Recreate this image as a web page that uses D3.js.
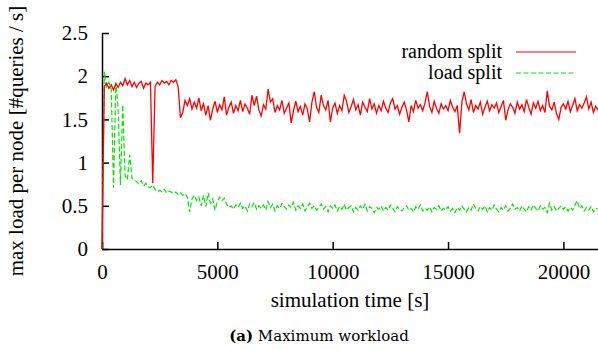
<!DOCTYPE html>
<html>
<head>
<meta charset="utf-8">
<script src="https://cdnjs.cloudflare.com/ajax/libs/d3/7.8.5/d3.min.js"></script>
<style>
  body { margin: 0; background: #fff; }
  #chart { width: 598px; height: 350px; }
  .axis text { font-family: "Liberation Serif", serif; font-size: 21px; fill: #000; }
  .axis path, .axis line { stroke: #000; stroke-width: 1.5; }
  .labelAxis { font-family: "Liberation Serif", serif; font-size: 21px; fill: #000; }
  .legendText { font-family: "Liberation Serif", serif; font-size: 20px; fill: #000; }
</style>
</head>
<body>
<div id="chart"></div>
<script>

/*
DATA
one sample every 100 s of simulation time
*/
const sampleStep = 100;

const seriesNames = ["random split", "load split"];

const randomSplit = [
  0, 1.88, 1.92, 1.86, 1.90, 1.84, 1.91, 1.87, 1.93, 1.89,
  1.97, 1.90, 1.95, 1.88, 1.93, 1.87, 1.92, 1.94, 1.86, 1.92,
  1.90, 1.93, 0.76, 1.88, 1.93, 1.90, 1.95, 1.92, 1.94, 1.90,
  1.95, 1.93, 1.96, 1.88, 1.52, 1.58, 1.72, 1.66, 1.74, 1.62,
  1.70, 1.63, 1.75, 1.60, 1.68, 1.55, 1.66, 1.49, 1.62, 1.71,
  1.58, 1.67, 1.61, 1.76, 1.55, 1.64, 1.70, 1.57, 1.66, 1.60,
  1.72, 1.59, 1.68, 1.63, 1.56, 1.78, 1.66, 1.77, 1.61, 1.54,
  1.67, 1.62, 1.85, 1.70, 1.74, 1.58, 1.66, 1.61, 1.72, 1.57,
  1.63, 1.69, 1.46, 1.60, 1.71, 1.59, 1.65, 1.55, 1.68, 1.62,
  1.47, 1.70, 1.82, 1.64, 1.58, 1.78, 1.66, 1.61, 1.72, 1.47,
  1.63, 1.69, 1.57, 1.66, 1.60, 1.78, 1.71, 1.58, 1.65, 1.73,
  1.61, 1.67, 1.55, 1.70, 1.64, 1.59, 1.74, 1.62, 1.68, 1.57,
  1.66, 1.60, 1.71, 1.63, 1.58, 1.69, 1.74, 1.62, 1.66, 1.56,
  1.64, 1.70, 1.61, 1.47, 1.66, 1.59, 1.72, 1.63, 1.67, 1.60,
  1.69, 1.82, 1.65, 1.58, 1.71, 1.63, 1.57, 1.68, 1.62, 1.66,
  1.60, 1.72, 1.64, 1.59, 1.66, 1.34, 1.70, 1.82, 1.68, 1.61,
  1.73, 1.58, 1.66, 1.62, 1.70, 1.56, 1.64, 1.71, 1.60, 1.67,
  1.63, 1.69, 1.58, 1.65, 1.72, 1.49, 1.61, 1.68, 1.64, 1.57,
  1.70, 1.62, 1.67, 1.59, 1.73, 1.64, 1.56, 1.69, 1.63, 1.71,
  1.60, 1.66, 1.58, 1.83, 1.65, 1.61, 1.70, 1.57, 1.50, 1.64,
  1.68, 1.62, 1.71, 1.59, 1.66, 1.74, 1.60, 1.67, 1.63, 1.69,
  1.76, 1.62, 1.70, 1.58, 1.65, 1.61
];

const loadSplit = [
  0, 2.05, 1.88, 1.93, 1.85, 0.71, 1.93, 1.63, 0.74, 1.67,
  0.85, 0.80, 1.09, 0.82, 0.80, 0.78, 0.75, 0.79, 0.73, 0.76,
  0.72, 0.71, 0.74, 0.69, 0.66, 0.68, 0.66, 0.69, 0.65, 0.67,
  0.66, 0.64, 0.66, 0.63, 0.65, 0.62, 0.64, 0.60, 0.43, 0.58,
  0.62, 0.56, 0.60, 0.50, 0.62, 0.49, 0.65, 0.53, 0.58, 0.45,
  0.55, 0.60, 0.56, 0.59, 0.52, 0.48, 0.50, 0.46, 0.51, 0.48,
  0.53, 0.47, 0.50, 0.44, 0.52, 0.49, 0.54, 0.46, 0.50, 0.47,
  0.51, 0.45, 0.55, 0.48, 0.52, 0.44, 0.50, 0.47, 0.53, 0.49,
  0.46, 0.51, 0.48, 0.54, 0.45, 0.50, 0.47, 0.52, 0.44, 0.49,
  0.53, 0.47, 0.50, 0.45, 0.48, 0.52, 0.46, 0.49, 0.43, 0.50,
  0.47, 0.51, 0.44, 0.49, 0.46, 0.52, 0.45, 0.48, 0.50, 0.43,
  0.48, 0.45, 0.50, 0.46, 0.52, 0.44, 0.49, 0.47, 0.42, 0.48,
  0.46, 0.50, 0.44, 0.48, 0.45, 0.51, 0.47, 0.43, 0.49, 0.46,
  0.44, 0.48, 0.50, 0.45, 0.47, 0.43, 0.49, 0.46, 0.51, 0.44,
  0.47, 0.45, 0.49, 0.43, 0.48, 0.46, 0.50, 0.44, 0.47, 0.45,
  0.49, 0.44, 0.47, 0.42, 0.48, 0.45, 0.50, 0.46, 0.43, 0.48,
  0.45, 0.52, 0.47, 0.44, 0.49, 0.46, 0.50, 0.43, 0.48, 0.45,
  0.51, 0.46, 0.43, 0.48, 0.45, 0.50, 0.44, 0.47, 0.52, 0.46,
  0.48, 0.44, 0.50, 0.46, 0.43, 0.49, 0.45, 0.51, 0.47, 0.44,
  0.50, 0.46, 0.48, 0.42, 0.53, 0.45, 0.49, 0.44, 0.47, 0.50,
  0.46, 0.49, 0.44, 0.48, 0.45, 0.51, 0.56, 0.47, 0.50, 0.44,
  0.48, 0.45, 0.49, 0.43, 0.47, 0.46
];

const xTicks = [0, 5000, 10000, 15000, 20000];
const yTicks = [0, 0.5, 1, 1.5, 2, 2.5];

/*
SVG CANVAS
*/
const width = 598;
const height = 350;
const margin = { top: 33, left: 102, right: 0, bottom: 101 };

const svg = d3.select("#chart")
  .append("svg")
  .attr("width", width)
  .attr("height", height);

/*
SCALES
*/
const xScale = d3.scaleLinear()
  .domain([0, 21500])
  .range([margin.left, width - margin.right]);

const yScale = d3.scaleLinear()
  .domain([0, 2.5])
  .range([height - margin.bottom, margin.top]);

const line = d3.line()
  .x(function (d, i) { return xScale(i * sampleStep); })
  .y(function (d) { return yScale(d); });

/*
AXES (gnuplot style, ticks pointing inwards)
*/
svg.append("g")
  .attr("class", "axis")
  .attr("transform", `translate(0,${height - margin.bottom})`)
  .call(d3.axisBottom(xScale).tickValues(xTicks).tickSizeInner(-7).tickSizeOuter(0).tickPadding(15).tickFormat(d3.format("d")));

svg.append("g")
  .attr("class", "axis")
  .attr("transform", `translate(${margin.left},0)`)
  .call(d3.axisLeft(yScale).tickValues(yTicks).tickSizeInner(-7).tickSizeOuter(0).tickPadding(14).tickFormat(d3.format("")));

/*
LINES
*/
svg.append("path")
  .datum(loadSplit)
  .attr("d", line)
  .attr("fill", "none")
  .attr("stroke", "#00e600")
  .attr("stroke-width", 1.2)
  .attr("stroke-dasharray", "5,2.5");

svg.append("path")
  .datum(randomSplit)
  .attr("d", line)
  .attr("fill", "none")
  .attr("stroke", "#ff0000")
  .attr("stroke-width", 1.3);

/*
LEGEND
*/
const legend = svg.append("g");
const legendStyles = [
  { color: "#ff0000", dash: null, y: 52 },
  { color: "#00e600", dash: "5,2.5", y: 73 }
];

seriesNames.forEach(function (name, i) {
  legend.append("text")
    .attr("class", "legendText")
    .attr("x", 502)
    .attr("y", legendStyles[i].y + 6)
    .attr("text-anchor", "end")
    .text(name);

  legend.append("line")
    .attr("x1", 516)
    .attr("x2", 576)
    .attr("y1", legendStyles[i].y)
    .attr("y2", legendStyles[i].y)
    .attr("stroke", legendStyles[i].color)
    .attr("stroke-width", 1.2)
    .attr("stroke-dasharray", legendStyles[i].dash);
});

/*
AXIS LABELS + CAPTION
*/
svg.append("text")
  .attr("class", "labelAxis")
  .attr("x", (margin.left + width - margin.right) / 2)
  .attr("y", 307)
  .attr("text-anchor", "middle")
  .text("simulation time [s]");

svg.append("text")
  .attr("class", "labelAxis")
  .attr("x", -(margin.top + height - margin.bottom) / 2)
  .attr("y", 23)
  .attr("text-anchor", "middle")
  .attr("transform", "rotate(-90)")
  .text("max load per node [#queries / s]");

const caption = svg.append("text")
  .attr("x", 319)
  .attr("y", 341)
  .attr("text-anchor", "middle")
  .style("font-family", "'DejaVu Serif', serif")
  .style("font-size", "15px");

caption.append("tspan").style("font-weight", "bold").text("(a)");
caption.append("tspan").text(" Maximum workload");

</script>
</body>
</html>
